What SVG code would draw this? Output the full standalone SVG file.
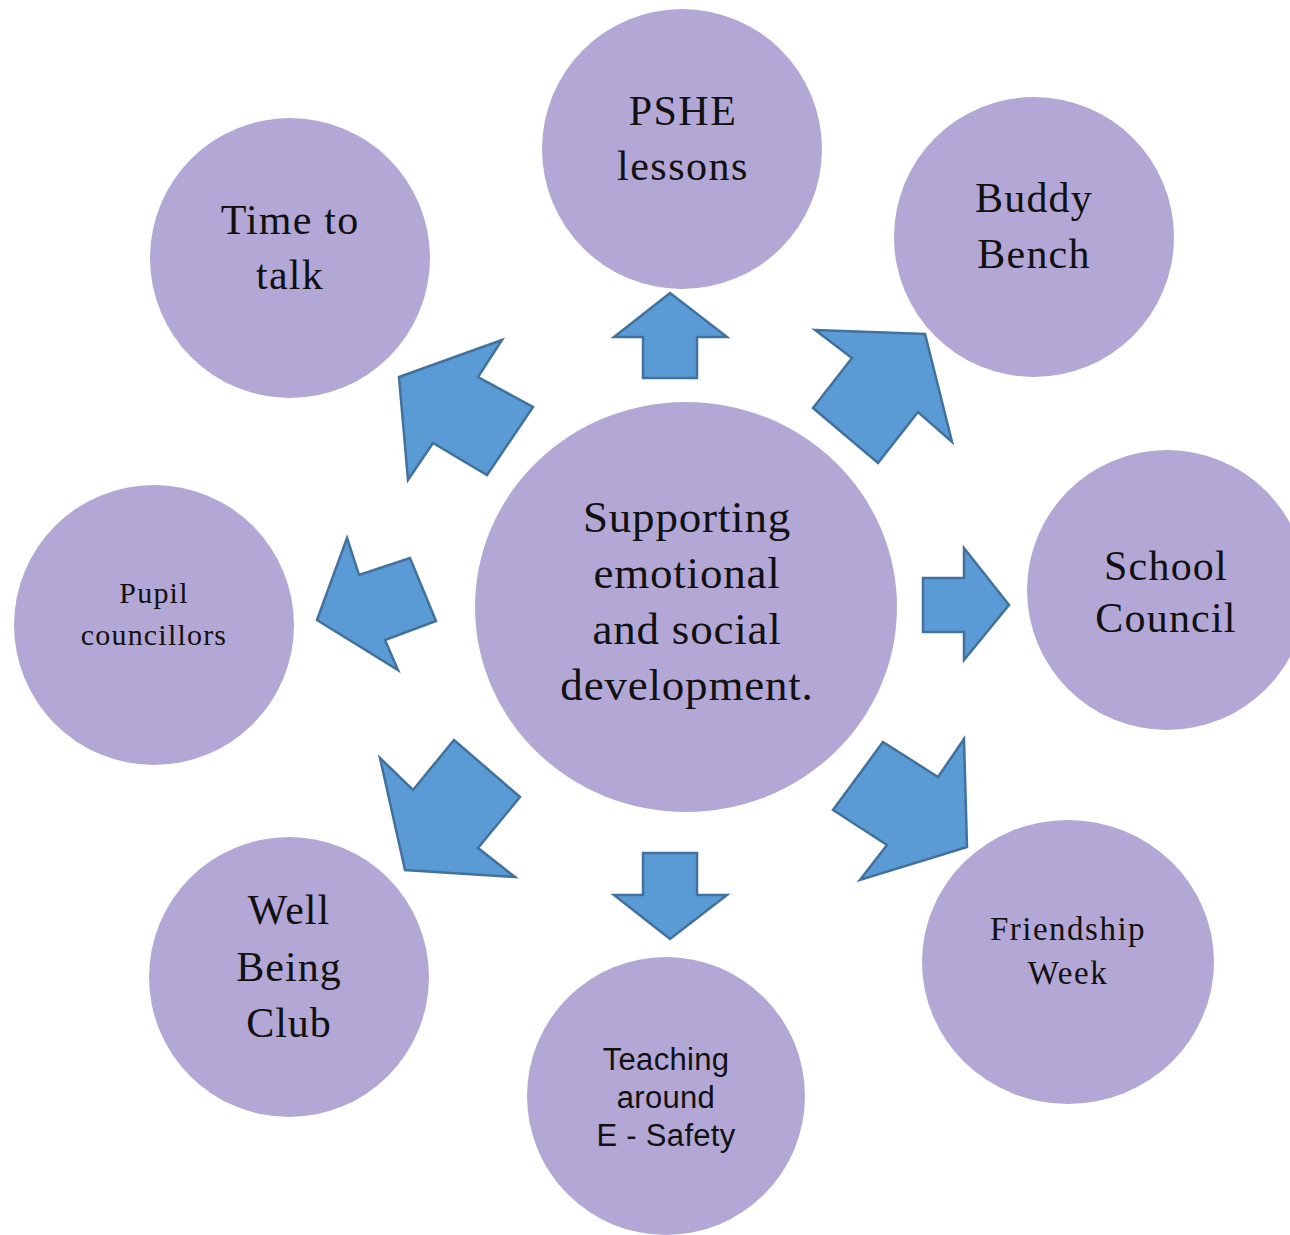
<svg xmlns="http://www.w3.org/2000/svg" width="1290" height="1235" viewBox="0 0 1290 1235">
<style>
.c{fill:#B3A7D6}
.a{fill:#5B9BD5;stroke:#41719C;stroke-width:2.5;stroke-linejoin:miter}
.t{font-family:"Liberation Serif","DejaVu Serif",serif;fill:#111;text-anchor:middle}
.s{font-family:"Liberation Sans",Arial,sans-serif;fill:#111;text-anchor:middle}
</style>
<rect width="1290" height="1235" fill="#fff"/>
<g id="connectors">
<polygon class="a" points="399,377 502,340 478,377 533,407 487,475 433,443 408,480"/>
<polygon class="a" points="815,330 925,334 952,442 918,412 878,463 813,408 852,358"/>
<polygon class="a" points="670,293 727,337 697,337 697,378 643,378 643,337 614,337"/>
<polygon class="a" points="347,538 359,575 410,558 436,621 385,640 398,670 317,620"/>
<polygon class="a" points="923,578 964,578 964,548 1009,605 964,660 964,632 923,632"/>
<polygon class="a" points="380,758 413,790 454,740 520,797 478,848 515,877 405,870"/>
<polygon class="a" points="883,742 938,777 964,739 967,847 860,880 887,845 833,810"/>
<polygon class="a" points="643,853 697,853 697,895 727,895 670,939 614,895 643,895"/>
</g>
<g id="center">
<ellipse class="c" cx="686" cy="607" rx="211" ry="205"/>
<text class="t" font-size="45" letter-spacing="0.8"><tspan x="687" y="532">Supporting</tspan><tspan x="687" y="588">emotional</tspan><tspan x="687" y="644">and social</tspan><tspan x="687" y="700">development.</tspan></text>
</g>
<g id="pshe">
<circle class="c" cx="682" cy="149" r="140"/>
<text class="t" font-size="42" letter-spacing="1.5"><tspan x="683" y="125">PSHE</tspan><tspan x="683" y="180">lessons</tspan></text>
</g>
<g id="time-to-talk">
<circle class="c" cx="290" cy="258" r="140"/>
<text class="t" font-size="42" letter-spacing="1.2"><tspan x="290" y="234">Time to</tspan><tspan x="290" y="289">talk</tspan></text>
</g>
<g id="buddy-bench">
<circle class="c" cx="1034" cy="237" r="140"/>
<text class="t" font-size="42" letter-spacing="1.2"><tspan x="1034" y="212">Buddy</tspan><tspan x="1034" y="268">Bench</tspan></text>
</g>
<g id="pupil-councillors">
<circle class="c" cx="154" cy="625" r="140"/>
<text class="t" font-size="30" letter-spacing="1.2"><tspan x="154" y="603">Pupil</tspan><tspan x="154" y="645">councillors</tspan></text>
</g>
<g id="school-council">
<circle class="c" cx="1167" cy="590" r="140"/>
<text class="t" font-size="42" letter-spacing="1.2"><tspan x="1166" y="580">School</tspan><tspan x="1166" y="632">Council</tspan></text>
</g>
<g id="well-being-club">
<circle class="c" cx="289" cy="977" r="140"/>
<text class="t" font-size="42" letter-spacing="1"><tspan x="289" y="924">Well</tspan><tspan x="289" y="981">Being</tspan><tspan x="289" y="1037">Club</tspan></text>
</g>
<g id="teaching">
<circle class="c" cx="666" cy="1096" r="139"/>
<text class="s" font-size="31" letter-spacing="0.3"><tspan x="666" y="1070">Teaching</tspan><tspan x="666" y="1108">around</tspan><tspan x="666" y="1146">E - Safety</tspan></text>
</g>
<g id="friendship-week">
<ellipse class="c" cx="1068" cy="962" rx="146" ry="142"/>
<text class="t" font-size="33" letter-spacing="1.5"><tspan x="1068" y="940">Friendship</tspan><tspan x="1068" y="984">Week</tspan></text>
</g>
</svg>
